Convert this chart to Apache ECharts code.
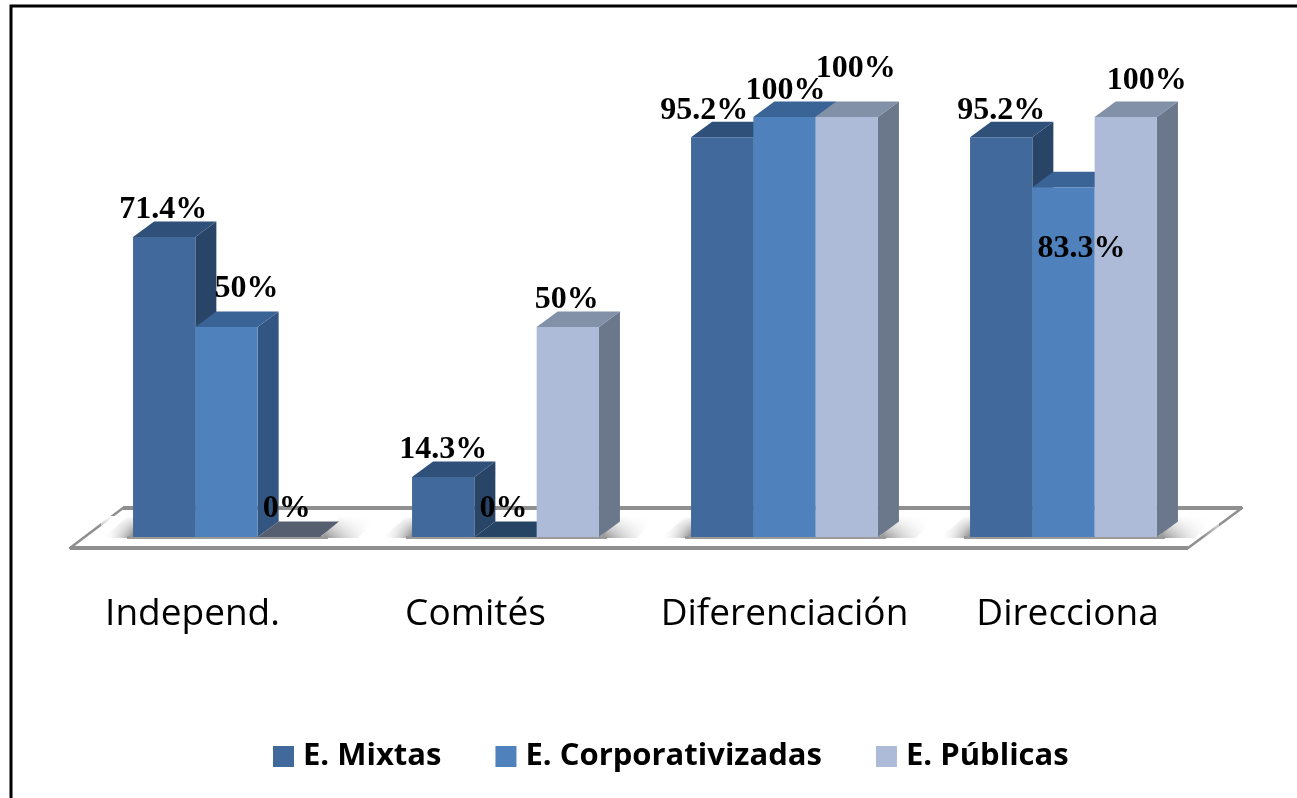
<!DOCTYPE html>
<html><head><meta charset="utf-8">
<style>html,body{margin:0;padding:0;background:#fff;overflow:hidden}#c{width:1297px;height:798px}</style>
<script src="https://cdn.jsdelivr.net/npm/echarts@6/dist/echarts.min.js"></script>
</head><body><div id="c"></div>
<script>
const categories = ['Independ.', 'Comités', 'Diferenciación', 'Direcciona'];
const seriesNames = ['E. Mixtas', 'E. Corporativizadas', 'E. Públicas'];
const mixtas = [71.4, 14.3, 95.2, 95.2];
const corporativizadas = [50, 0, 100, 83.3];
const publicas = [0, 50, 100, 100];
const valuesBySeries = [mixtas, corporativizadas, publicas];

// look
const faces = [
  {front:'#41699c', top:'#2f5079', side:'#284467', zero:'#2f5079'},
  {front:'#4f81bd', top:'#3b6496', side:'#325582', zero:'#264464'},
  {front:'#adbbd8', top:'#8290a8', side:'#6b788c', zero:'#565f70'}
];
const DX = 21, DY = 15.5, BAR_RATIO = 0.2233;
const catLabelShift = [-34, -30, 0, 4];
// label nudges from the bar's top-centre, by series then category
const labelNudge = [
  [[-1,-27],[0,-27],[-18,-26],[0,-26]],
  [[20,-38],[-2,-28],[1,-26],[18,62]],
  [[-2,-28],[-1,-27],[9,-48],[21,-36]]
];

function pts(a){return {points:a};}
function barItem(si){
  return function(params, api){
    const cat = api.value(0), val = api.value(1);
    const band = api.size([1,0])[0], w = band*BAR_RATIO;
    const base = api.coord([cat,0]);
    const top = api.coord([cat,val]);
    const l = base[0] + (si-1.5)*w, r = l+w, b = base[1], t = top[1];
    const f = faces[si];
    if (val === 0) {
      return {type:'polygon', silent:true, shape:pts([[l,b],[l+DX,b-DY],[r+DX-2,b-DY],[r,b]]), style:{fill:f.zero}};
    }
    return {type:'group', silent:true, children:[
      {type:'polygon', shape:pts([[r,t],[r+DX,t-DY],[r+DX,b-DY],[r,b]]), style:{fill:f.side}},
      {type:'polygon', shape:pts([[l,t],[l+DX,t-DY],[r+DX,t-DY],[r,t]]), style:{fill:f.top}},
      {type:'rect', shape:{x:l,y:t,width:w,height:b-t}, style:{fill:f.front}}
    ]};
  };
}
function floorItem(params, api){
  const cs = params.coordSys, b = api.coord([0,0])[1];
  const L = cs.x, R = cs.x+cs.width, stroke = '#8f8f8f';
  return {type:'group', silent:true, children:[
    {type:'polygon', shape:pts([[L-17,b+11],[L+36,b-29],[R+39,b-29],[R-15,b+11]]),
     style:{fill:'#fff', stroke:stroke, lineWidth:2.5, lineJoin:'round'}},
    {type:'line', shape:{x1:L-17,y1:b+11,x2:R-15,y2:b+11}, style:{stroke:stroke, lineWidth:4}},
    {type:'line', shape:{x1:L+36,y1:b-29,x2:R+39,y2:b-29}, style:{stroke:stroke, lineWidth:4}}
  ]};
}
function shadowItem(params, api){
  const cat = api.value(0), band = api.size([1,0])[0], w = band*BAR_RATIO;
  const c = api.coord([cat,0]), b = c[1], l = c[0]-1.5*w, r = c[0]+1.5*w;
  const grey = 'rgba(105,105,105,0.85)', clear = 'rgba(255,255,255,0)';
  const G = echarts.graphic.LinearGradient;
  return {type:'group', silent:true, children:[
    {type:'polygon', shape:pts([[l-30,b+1],[l+1,b+1],[l+1,b-20],[l-6,b-20]]),
     style:{fill:new G(0,0,1,0,[{offset:0,color:clear},{offset:1,color:grey}])}},
    {type:'polygon', shape:pts([[r,b+1],[r+DX,b-DY-5],[r+58,b-DY-5],[r+38,b+1]]),
     style:{fill:new G(0,0,1,0,[{offset:0,color:grey},{offset:1,color:clear}])}},
    {type:'rect', shape:{x:l-32,y:b-21,width:r-l+94,height:21},
     style:{fill:new G(0,0,0,1,[{offset:0,color:'rgba(255,255,255,1)'},{offset:1,color:clear}])}},
    {type:'rect', shape:{x:l-6,y:b-1,width:r-l+14,height:3}, style:{fill:'#9a9a9a'}}
  ]};
}
function labelItem(params, api){
  const si = api.value(0), cat = api.value(1), val = api.value(2);
  const band = api.size([1,0])[0], w = band*BAR_RATIO;
  const p = api.coord([cat,val]), n = labelNudge[si][cat];
  return {type:'text', silent:true, x:p[0]+(si-1)*w+n[0], y:p[1]+n[1],
    style:{text:val+'%', fill:'#000', font:'bold 32px "Liberation Serif"', textAlign:'center', textVerticalAlign:'middle'}};
}

const labelData = [];
valuesBySeries.forEach((vals,si)=>vals.forEach((v,ci)=>labelData.push([si,ci,v])));
const rich = {};
categories.forEach((c,i)=>{
  const s = catLabelShift[i];
  rich['c'+i] = {fontFamily:'Open Sans', fontSize:37, color:'#000',
    padding:[0, s<0?-2*s:0, 0, s>0?2*s:0]};
});

const chart = echarts.init(document.getElementById('c'), null, {renderer:'canvas'});
chart.setOption({
  animation:false,
  backgroundColor:'#fff',
  graphic:[
    {type:'polyline', silent:true, z:0, shape:{points:[[11,798],[11,6],[1297,6]]},
     style:{fill:'none', stroke:'#000', lineWidth:3}}
  ],
  grid:{left:87, width:1116, top:117, height:420, containLabel:false},
  xAxis:{type:'category', data:categories, axisLine:{show:false}, axisTick:{show:false},
    splitLine:{show:false},
    axisLabel:{margin:59, interval:0, formatter:(v,i)=>'{c'+i+'|'+v+'}', rich:rich}},
  yAxis:{type:'value', min:0, max:100, show:false},
  legend:{data:seriesNames, left:268, top:736, icon:'rect', itemWidth:21, itemHeight:21, itemGap:54,
    selectedMode:false,
    textStyle:{fontFamily:'Open Sans', fontWeight:'bold', fontSize:31, color:'#000', padding:[0,0,0,4]}},
  series:[
    {type:'custom', name:'_floor', z:1, silent:true, renderItem:floorItem, data:[[0,0]], encode:{x:0,y:1}},
    {type:'custom', name:'_shadow', z:1.5, silent:true, renderItem:shadowItem, data:categories.map((c,i)=>[i,0]), encode:{x:0,y:1}},
    ...seriesNames.map((n,si)=>({
      type:'custom', name:n, z:2+si*0.1, renderItem:barItem(si),
      itemStyle:{color:faces[si].front},
      data:valuesBySeries[si].map((v,ci)=>[ci,v]), encode:{x:0,y:1}
    })),
    {type:'custom', name:'_labels', z:5, silent:true, renderItem:labelItem, data:labelData, encode:{x:1,y:2}}
  ]
});
</script></body></html>
